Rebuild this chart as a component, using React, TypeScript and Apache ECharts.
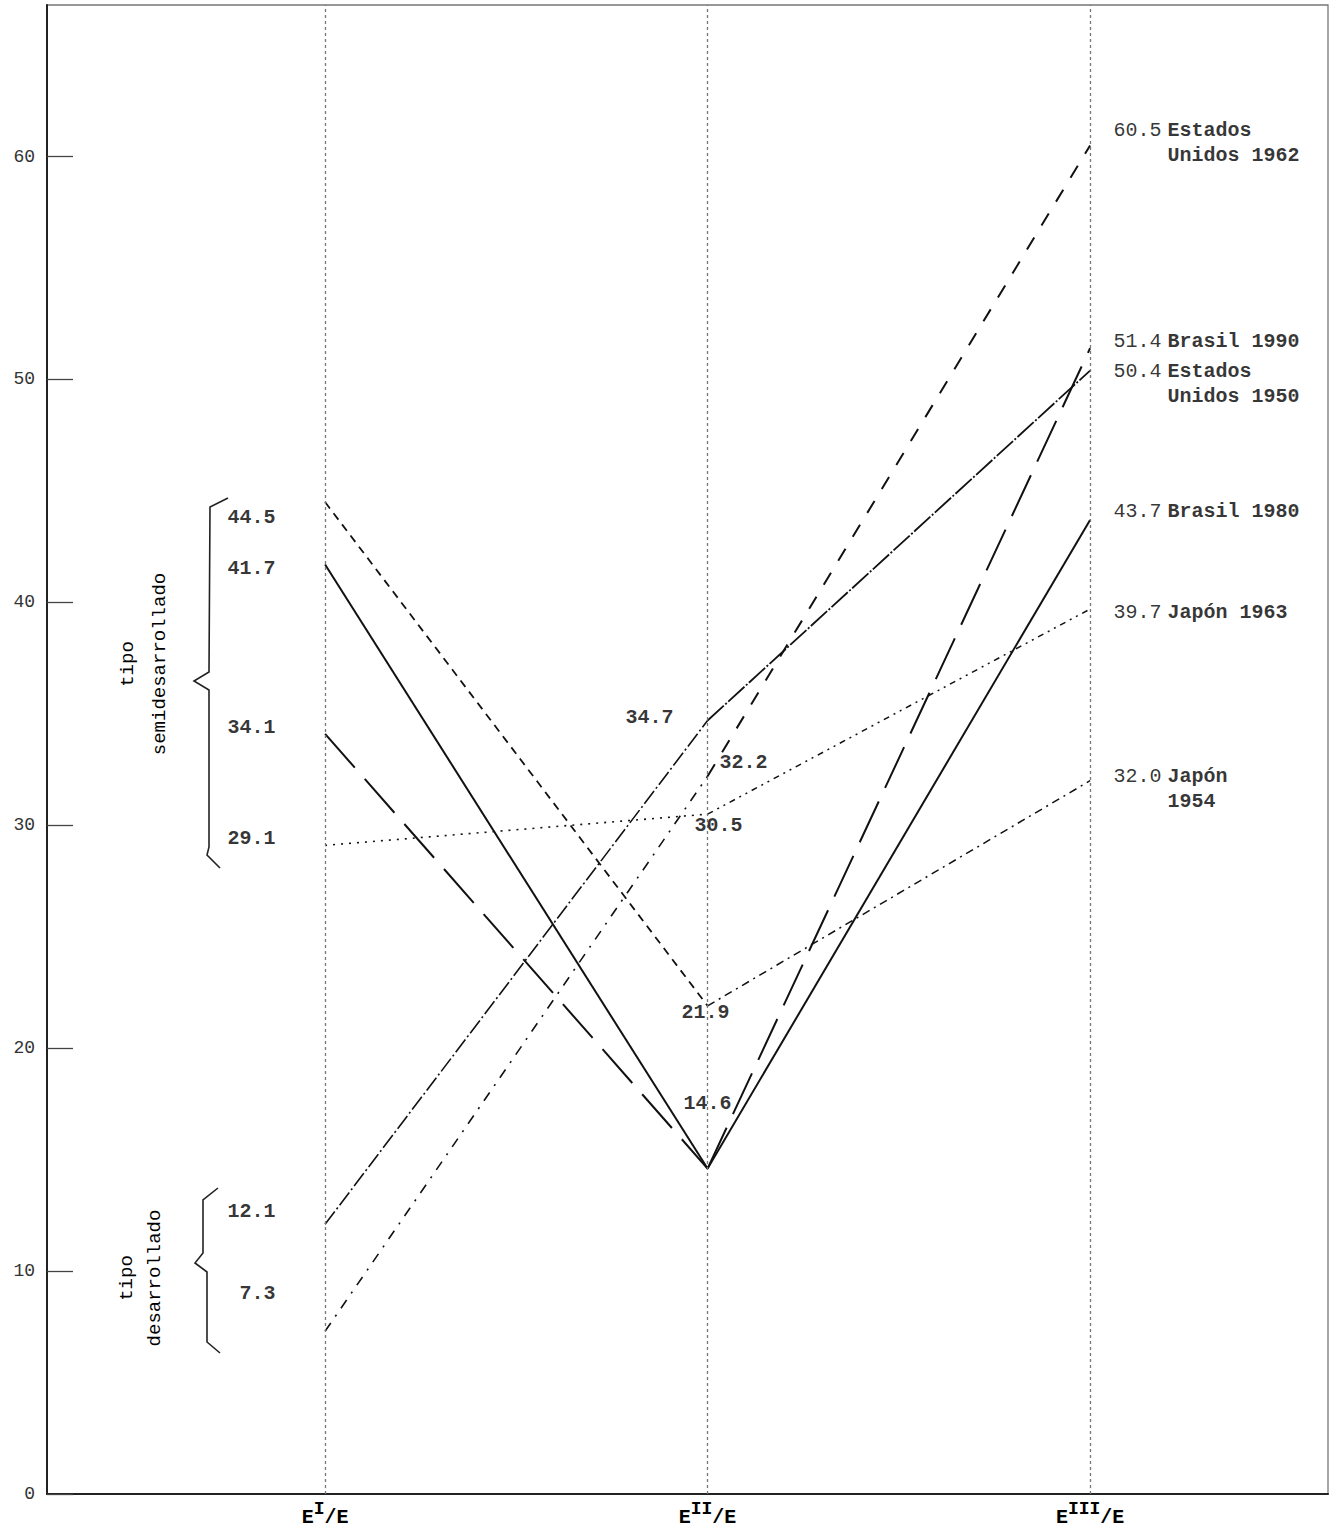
import React, { useEffect, useRef } from "react";
import * as echarts from "echarts";

// ---- data ----
const categorySup = ["I", "II", "III"]; // E^I/E, E^II/E, E^III/E
const seriesNames = [
  "Estados\nUnidos 1962",
  "Brasil 1990",
  "Estados\nUnidos 1950",
  "Brasil 1980",
  "Japón 1963",
  "Japón\n1954",
];
const valuesEI = [7.3, 34.1, 12.1, 41.7, 29.1, 44.5];
const valuesEII = [32.2, 14.6, 34.7, 14.6, 30.5, 21.9];
const valuesEIII = [60.5, 51.4, 50.4, 43.7, 39.7, 32.0];
const yTicks = [0, 10, 20, 30, 40, 50, 60];
const groupLabels = ["tipo\nsemidesarrollado", "tipo\ndesarrollado"];

// ---- styles (not data) ----
const seg1Style = [
  { type: [10, 8, 2, 8], width: 1.6 },
  { type: [45, 15], width: 2 },
  { type: [16, 3, 2, 3], width: 1.6 },
  { type: "solid", width: 2 },
  { type: [2, 6], width: 1.6 },
  { type: [8, 6], width: 1.8 },
];
const seg2Style = [
  { type: [14, 14], width: 2 },
  { type: [45, 15], width: 2 },
  { type: [22, 2, 2, 2], width: 1.8 },
  { type: "solid", width: 2 },
  { type: [6, 5, 2, 5, 2, 5], width: 1.5 },
  { type: [8, 5, 2, 5], width: 1.5 },
];
const leftLabelDy = [-38, -6, -13, 4, -7, 15];
const midLabelOffset: (number[] | null)[] = [
  [36, -14],
  null,
  [-58, -3],
  [0, -65],
  [11, 11],
  [-2, 7],
];
const rightLabelDy = [-2, -7, 13, -8, 3, 8];

const FONT = "'Liberation Mono', 'DejaVu Sans Mono', monospace";
const INK = "#000";

export default function App() {
  const ref = useRef<HTMLDivElement>(null);

  useEffect(() => {
    document.body.style.margin = "0";
    if (!ref.current) return;
    const chart = echarts.init(ref.current, undefined, { renderer: "svg" });

    const lineSeries: any[] = [];
    seriesNames.forEach((name, i) => {
      lineSeries.push({
        type: "line",
        name: name + " a",
        data: [
          [0, valuesEI[i]],
          [1, valuesEII[i]],
        ],
        symbol: "none",
        silent: true,
        lineStyle: { color: "#111", width: seg1Style[i].width, type: seg1Style[i].type as any },
        z: 3,
      });
      lineSeries.push({
        type: "line",
        name: name + " b",
        data: [
          [1, valuesEII[i]],
          [2, valuesEIII[i]],
        ],
        symbol: "none",
        silent: true,
        lineStyle: { color: "#111", width: seg2Style[i].width, type: seg2Style[i].type as any },
        z: 3,
      });
    });

    const baseLabel = { color: INK, fontFamily: FONT, fontSize: 20, fontWeight: "bold" };
    const labelData: any[] = [];
    seriesNames.forEach((name, i) => {
      labelData.push({
        value: [0, valuesEI[i]],
        label: {
          show: true,
          position: "left",
          distance: 49,
          offset: [0, leftLabelDy[i]],
          formatter: () => valuesEI[i].toFixed(1),
          ...baseLabel,
        },
      });
      const mo = midLabelOffset[i];
      if (mo) {
        labelData.push({
          value: [1, valuesEII[i]],
          label: {
            show: true,
            position: "inside",
            offset: mo,
            formatter: () => valuesEII[i].toFixed(1),
            ...baseLabel,
          },
        });
      }
      const lines = name.split("\n");
      const txt = lines
        .map((l, k) => (k === 0 ? `{n|${valuesEIII[i].toFixed(1)}}{t|${l}}` : `{n| }{t|${l}}`))
        .join("\n");
      labelData.push({
        value: [2, valuesEIII[i]],
        label: {
          show: true,
          position: "right",
          distance: 23,
          offset: [0, rightLabelDy[i]],
          formatter: () => txt,
          rich: {
            n: { ...baseLabel, fontWeight: "normal", width: 54, lineHeight: 25 },
            t: { ...baseLabel, lineHeight: 25 },
          },
        },
      });
    });

    const option: any = {
      animation: false,
      backgroundColor: "#fff",
      grid: {
        left: 47,
        right: 4,
        top: 5,
        bottom: 37,
        containLabel: false,
        outerBoundsMode: "none",
        show: true,
        borderColor: "#777",
        borderWidth: 1.3,
      },
      xAxis: {
        type: "value",
        min: -0.727,
        max: 2.622,
        axisLine: { onZero: false, lineStyle: { color: "#222", width: 2 } },
        axisTick: { show: false },
        splitLine: { show: false },
        axisLabel: {
          customValues: [0, 1, 2],
          margin: 6,
          formatter: (v: number) => {
            const k = Math.round(v);
            return `{e|E}{s|${categorySup[k]}}{e|/E}`;
          },
          rich: {
            e: { fontFamily: FONT, fontSize: 20, fontWeight: "bold", color: INK },
            s: {
              fontFamily: FONT,
              fontSize: 18,
              fontWeight: "bold",
              color: INK,
              padding: [0, 0, 16, 0],
            },
          },
        },
      },
      yAxis: {
        type: "value",
        min: 0,
        max: 66.8,
        axisLine: { show: true, onZero: false, lineStyle: { color: "#222", width: 2 } },
        axisTick: {
          show: true,
          inside: true,
          length: 26,
          customValues: yTicks,
          lineStyle: { color: "#444", width: 1.3 },
        },
        splitLine: { show: false },
        axisLabel: {
          customValues: yTicks,
          margin: 12,
          fontFamily: FONT,
          fontSize: 18,
          color: "#333",
        },
      },
      series: [
        {
          type: "line",
          data: [],
          silent: true,
          markLine: {
            silent: true,
            symbol: "none",
            label: { show: false },
            lineStyle: { color: "#777", type: [3, 3], width: 1.3 },
            data: [{ xAxis: 0 }, { xAxis: 1 }, { xAxis: 2 }],
          },
        },
        ...lineSeries,
        {
          type: "scatter",
          symbolSize: 1,
          itemStyle: { color: "rgba(0,0,0,0)" },
          silent: true,
          data: labelData,
          z: 5,
        },
      ],
      graphic: [
        {
          type: "polyline",
          silent: true,
          shape: {
            points: [
              [228, 498],
              [210, 507],
              [209, 672],
              [194, 681],
              [209, 690],
              [209, 847],
              [207, 855],
              [220, 868],
            ],
          },
          style: { stroke: "#222", lineWidth: 1.6, fill: null },
        },
        {
          type: "polyline",
          silent: true,
          shape: {
            points: [
              [218, 1188],
              [203, 1200],
              [203, 1253],
              [195, 1263],
              [207, 1272],
              [207, 1342],
              [220, 1353],
            ],
          },
          style: { stroke: "#222", lineWidth: 1.6, fill: null },
        },
        {
          type: "text",
          silent: true,
          x: 144,
          y: 664,
          rotation: Math.PI / 2,
          style: {
            text: groupLabels[0],
            fill: INK,
            font: `19px ${FONT}`,
            align: "center",
            verticalAlign: "middle",
            textAlign: "center",
            textVerticalAlign: "middle",
            lineHeight: 32,
          },
        },
        {
          type: "text",
          silent: true,
          x: 141,
          y: 1278,
          rotation: Math.PI / 2,
          style: {
            text: groupLabels[1],
            fill: INK,
            font: `19px ${FONT}`,
            align: "center",
            verticalAlign: "middle",
            textAlign: "center",
            textVerticalAlign: "middle",
            lineHeight: 28,
          },
        },
      ],
    };

    chart.setOption(option);
    return () => chart.dispose();
  }, []);

  return <div ref={ref} style={{ width: 1332, height: 1531 }} />;
}
